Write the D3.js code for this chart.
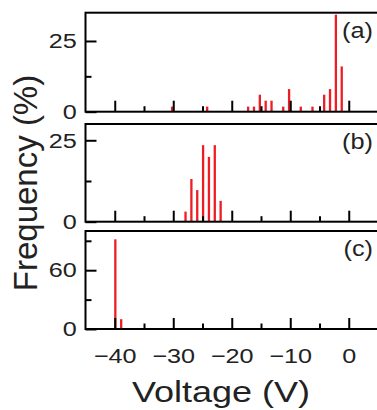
<!DOCTYPE html>
<html>
<head>
<meta charset="utf-8">
<script src="https://cdn.jsdelivr.net/npm/d3@7"></script>
<style>
    body { margin: 0; background: #fff; }
    svg { display: block; font-family: "Liberation Sans", Arial, sans-serif; }
</style>
</head>
<body>
<script>
// panel (a)
const voltsA = [-30.2, -24.2, -17.2, -16.2, -15.2, -14.2, -13.2, -11.2, -10.2, -8.2, -6.2, -4.2, -3.2, -2.2, -1.2];
const freqA = [1.8, 1.8, 1.8, 1.8, 6, 3.9, 3.9, 1.8, 8, 1.8, 1.8, 6, 8, 34.3, 16];
// panel (b)
const voltsB = [-27.9, -26.9, -25.9, -24.9, -23.9, -22.9, -21.9];
const freqB = [3.1, 13.1, 9.7, 23.5, 19.9, 23.5, 6.4];
// panel (c)
const voltsC = [-39.9, -38.9];
const freqC = [91.5, 10];

const xMajor = [-40, -30, -20, -10, 0];
const xMinor = [-35, -25, -15, -5];
const yMajorA = [0, 25], yMinorA = [12.5];
const yMajorB = [0, 25], yMinorB = [12.5];
const yMajorC = [0, 60], yMinorC = [30, 90];
const panelNames = ['(a)', '(b)', '(c)'];

const width = 377, height = 410;
const left = 85.5, right = 378;
const red = '#ee1d24';
const stretch = 1.2;

const svg = d3.select('body')
    .append('svg')
    .attr('width', width)
    .attr('height', height);

const x = d3.scaleLinear()
    .domain([-45, 5])
    .range([left, right]);

const panels = [
    {volts: voltsA, freq: freqA, top: 12.7, bottom: 111.7, max: 35, major: yMajorA, minor: yMinorA},
    {volts: voltsB, freq: freqB, top: 124, bottom: 221.7, max: 30, major: yMajorB, minor: yMinorB},
    {volts: voltsC, freq: freqC, top: 231, bottom: 329, max: 100, major: yMajorC, minor: yMinorC}
];

panels.forEach((p, k) => {
    const y = d3.scaleLinear()
        .domain([0, p.max])
        .range([p.bottom, p.top]);
    const g = svg.append('g');

    g.selectAll('rect.bar')
        .data(p.volts)
        .enter()
        .append('rect')
        .attr('class', 'bar')
        .attr('x', d => x(d) - 1.15)
        .attr('width', 2.3)
        .attr('y', (d, i) => y(p.freq[i]))
        .attr('height', (d, i) => y(0) - y(p.freq[i]))
        .attr('fill', red);

    const last = k === panels.length - 1;

    g.append('g')
        .attr('transform', `translate(0, ${p.bottom})`)
        .call(d3.axisBottom(x)
            .tickValues(xMajor)
            .tickSizeInner(-11)
            .tickSizeOuter(0)
            .tickPadding(19)
            .tickFormat(last ? d3.format('') : () => ''));

    g.append('g')
        .attr('transform', `translate(0, ${p.bottom})`)
        .call(d3.axisBottom(x)
            .tickValues(xMinor)
            .tickSizeInner(-5.5)
            .tickSizeOuter(0)
            .tickFormat(() => ''));

    g.append('g')
        .attr('transform', `translate(${left}, 0)`)
        .call(d3.axisLeft(y)
            .tickValues(p.major)
            .tickSizeInner(-11)
            .tickSizeOuter(0)
            .tickPadding(7.3)
            .tickFormat(d3.format('')));

    g.append('g')
        .attr('transform', `translate(${left}, 0)`)
        .call(d3.axisLeft(y)
            .tickValues(p.minor)
            .tickSizeInner(-6)
            .tickSizeOuter(0)
            .tickFormat(() => ''));

    g.selectAll('.domain').remove();
    g.selectAll('.tick line')
        .attr('stroke', '#000')
        .attr('stroke-width', 2);
    g.selectAll('.tick text')
        .attr('font-size', 21)
        .attr('fill', '#222')
        .attr('transform', `scale(${stretch},1)`);

    g.append('rect')
        .attr('x', left)
        .attr('y', p.top)
        .attr('width', right - left)
        .attr('height', p.bottom - p.top)
        .attr('fill', 'none')
        .attr('stroke', '#000')
        .attr('stroke-width', 2);

    g.append('text')
        .attr('transform', `translate(373, ${p.top + 25}) scale(1.15,1)`)
        .attr('text-anchor', 'end')
        .attr('font-size', 22)
        .attr('fill', '#222')
        .text(panelNames[k]);
});

svg.append('text')
    .attr('transform', 'translate(221, 402) scale(1.2,1)')
    .attr('text-anchor', 'middle')
    .attr('font-size', 30)
    .attr('fill', '#222')
    .text('Voltage (V)');

svg.append('text')
    .attr('transform', 'translate(36.7, 183) rotate(-90)')
    .attr('text-anchor', 'middle')
    .attr('font-size', 33)
    .attr('fill', '#222')
    .text('Frequency (%)');
</script>
</body>
</html>
